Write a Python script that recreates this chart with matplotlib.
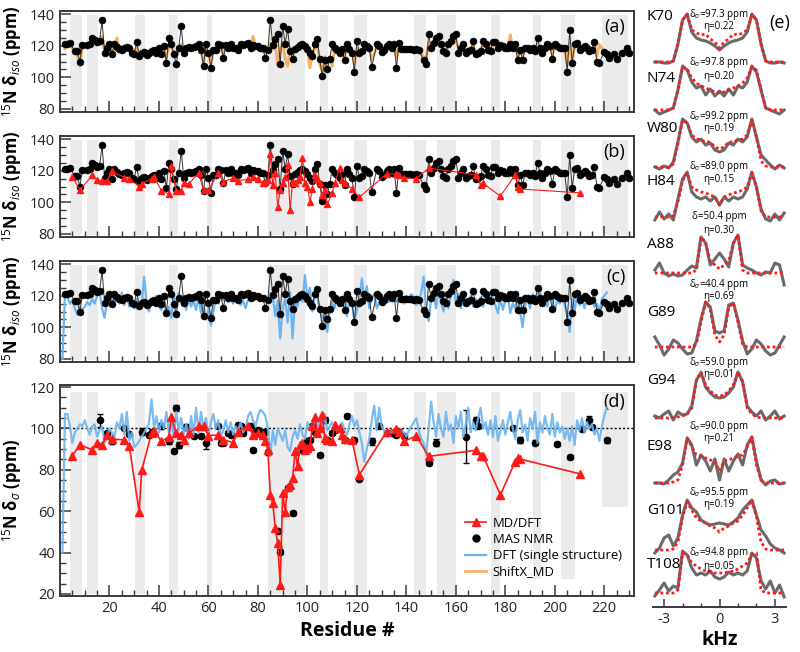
import numpy as np
import matplotlib
matplotlib.use("Agg")
import matplotlib.pyplot as plt
from matplotlib.ticker import MultipleLocator
from matplotlib.lines import Line2D

# ============================================================
# DATA
# ============================================================

# MAS NMR isotropic shifts (panels a-c)
res_iso = [2, 3, 4, 6, 7, 8, 9, 11, 12, 13, 14, 15, 16, 17, 18, 19, 20, 21, 22, 23,
           24, 25, 26, 27, 28, 29, 30, 31, 32, 33, 34, 35, 36, 37, 38, 39, 40, 41, 42, 43,
           44, 45, 46, 47, 48, 49, 50, 51, 52, 53, 54, 55, 56, 57, 58, 59, 60, 61, 62, 63,
           64, 65, 66, 67, 68, 69, 70, 71, 72, 73, 74, 75, 76, 77, 78, 79, 80, 81, 82, 83,
           84, 85, 86, 87, 88, 89, 90, 91, 92, 93, 94, 95, 96, 97, 98, 99, 100, 101, 102, 103,
           104, 105, 106, 107, 108, 109, 110, 111, 112, 113, 114, 115, 116, 117, 118, 119, 120, 121, 122, 123,
           124, 125, 126, 128, 129, 130, 131, 132, 133, 134, 135, 136, 137, 138, 139, 140, 141, 142, 143, 144,
           145, 147, 148, 149, 150, 151, 152, 153, 154, 155, 156, 157, 158, 159, 160, 161, 162, 163, 164, 165,
           166, 167, 168, 169, 170, 171, 172, 173, 174, 175, 176, 177, 178, 179, 180, 181, 182, 183, 184, 185,
           186, 187, 188, 189, 190, 191, 192, 193, 194, 195, 196, 197, 198, 199, 200, 201, 202, 203, 204, 205,
           206, 207, 208, 209, 210, 211, 212, 213, 214, 215, 216, 217, 218, 220, 221, 222, 224, 225, 227, 229,
           230]
iso_nmr = [120.8, 121.3, 121.5, 116.6, 116.6, 109.9, 120.4, 120.2, 120.8, 124.6, 123.4, 122.5, 122.9, 136.0, 115.6, 118.7, 120.8, 114.5, 120.8, 119.2,
           117.7, 117.0, 118.3, 119.2, 118.7, 115.4, 114.9, 122.5, 113.5, 115.6, 116.2, 114.1, 115.2, 116.6, 117.0, 115.6, 118.7, 114.5, 119.8, 109.3,
           124.6, 120.8, 114.9, 108.2, 118.7, 132.4, 115.6, 118.3, 119.2, 118.3, 119.2, 119.8, 120.8, 117.0, 107.2, 120.8, 115.6, 106.1, 117.0, 117.0,
           120.8, 120.4, 112.0, 120.4, 118.7, 121.3, 118.7, 118.3, 117.0, 120.8, 120.4, 120.8, 121.9, 118.7, 120.2, 119.8, 119.6, 118.7, 118.7, 112.0,
           117.0, 136.0, 120.4, 124.0, 127.2, 108.6, 132.4, 121.3, 130.3, 116.6, 111.4, 117.7, 119.2, 120.4, 121.3, 119.8, 117.7, 115.6, 113.5, 121.3,
           124.4, 111.4, 100.8, 110.7, 105.0, 111.4, 121.3, 118.7, 117.0, 115.6, 117.7, 110.7, 120.8, 117.7, 115.6, 103.6, 122.9, 115.6, 116.6, 120.8,
           119.8, 118.7, 106.5, 120.8, 119.8, 116.2, 117.0, 119.8, 120.8, 118.7, 121.3, 106.1, 121.9, 117.7, 117.7, 117.7, 117.7, 117.7, 117.0, 117.7,
           117.0, 110.7, 108.6, 127.2, 118.7, 121.9, 125.0, 126.1, 120.8, 116.6, 115.6, 120.8, 122.9, 126.1, 127.6, 115.6, 118.7, 120.8, 115.6, 116.6,
           117.0, 122.9, 114.5, 115.6, 116.6, 122.9, 120.8, 117.0, 116.6, 122.5, 122.5, 118.7, 120.4, 119.8, 118.7, 118.3, 120.8, 118.7, 120.8, 110.7,
           117.0, 110.7, 118.7, 118.3, 117.0, 118.7, 116.6, 124.6, 118.7, 115.6, 118.7, 120.8, 119.8, 111.4, 121.3, 119.8, 118.7, 118.7, 118.3, 103.6,
           129.7, 109.3, 120.8, 121.9, 117.0, 118.7, 119.8, 118.3, 116.6, 117.0, 122.5, 109.9, 109.3, 116.2, 114.9, 112.4, 114.5, 111.4, 115.6, 118.7,
           115.6]
iso_shiftx = [118, 121, 120, 117, 114, 107, 118, 121, 121, 125, 124, 121, 123, 126, 117, 117, 120, 116, 119, 125,
              118, 119, 117, 119, 117, 116, 116, 119, 115, 116, 117, 116, 117, 118, 116, 117, 119, 116, 118, 112,
              120, 119, 116, 113, 117, 121, 117, 119, 118, 119, 118, 120, 119, 116, 109, 118, 116, 108, 117, 118,
              119, 120, 114, 119, 119, 120, 119, 117, 118, 119, 120, 121, 120, 119, 126, 120, 118, 117, 116, 115,
              118, 122, 118, 121, 108, 117, 122, 112, 107, 119, 113, 118, 119, 120, 120, 118, 116, 106, 114, 118,
              122, 108, 104, 113, 108, 113, 107, 119, 117, 116, 118, 113, 119, 118, 116, 108, 118, 117, 117, 119,
              120, 118, 111, 119, 120, 117, 118, 119, 119, 118, 120, 112, 120, 118, 117, 118, 118, 117, 118, 117,
              118, 113, 112, 122, 119, 120, 121, 122, 120, 117, 117, 120, 121, 122, 124, 118, 119, 122, 117, 118,
              119, 120, 116, 117, 118, 120, 120, 118, 118, 121, 122, 119, 120, 120, 119, 119, 127, 119, 120, 113,
              117, 113, 118, 118, 118, 119, 117, 121, 119, 117, 119, 120, 119, 114, 120, 119, 119, 118, 118, 108,
              122, 111, 119, 120, 118, 119, 119, 118, 117, 118, 121, 113, 121, 116, 116, 114, 115, 113, 116, 118,
              116]

# DFT single structure, every residue from 1
dft_iso = [80, 121, 119, 115, 117, 112, 108, 113, 111, 113, 116, 114, 118, 115, 120, 123, 112, 106, 117, 115,
           120, 116, 119, 115, 122, 114, 120, 113, 117, 112, 118, 113, 114, 132, 116, 110, 118, 114, 120, 113,
           111, 118, 108, 113, 106, 120, 112, 122, 115, 120, 111, 118, 113, 117, 111, 119, 109, 115, 105, 112,
           101, 110, 118, 115, 121, 117, 120, 116, 118, 115, 120, 119, 114, 117, 112, 118, 121, 117, 119, 118,
           120, 117, 120, 116, 122, 120, 107, 117, 93, 112, 118, 103, 122, 93, 118, 113, 122, 116, 133, 118,
           125, 110, 121, 119, 111, 106, 108, 97, 110, 116, 112, 120, 118, 115, 120, 107, 119, 116, 104, 111,
           118, 131, 117, 126, 112, 119, 121, 112, 116, 120, 114, 118, 116, 121, 119, 116, 120, 118, 115, 120,
           118, 121, 119, 114, 117, 122, 132, 110, 104, 118, 122, 112, 124, 116, 110, 118, 112, 121, 130, 115,
           121, 112, 119, 116, 114, 120, 113, 118, 115, 119, 113, 120, 116, 121, 117, 114, 109, 118, 111, 117,
           120, 109, 115, 112, 122, 110, 100, 114, 118, 112, 121, 115, 119, 124, 114, 119, 113, 122, 117, 110,
           118, 115, 120, 114, 109, 97, 118, 110, 121, 114, 118, 112, 120, 116, 118, 113, 115, 110, 118, 120,
           122]
dft_aniso = [40, 107, 107, 101, 93, 98, 100, 102, 101, 104, 100, 97, 101, 102, 96, 99, 101, 93, 95, 100,
             98, 96, 103, 100, 107, 97, 108, 94, 98, 91, 92, 94, 96, 98, 100, 103, 114, 100, 106, 98,
             104, 100, 108, 98, 104, 96, 108, 99, 105, 97, 102, 95, 106, 97, 110, 98, 108, 100, 105, 96,
             103, 107, 100, 104, 96, 99, 104, 98, 103, 97, 101, 99, 103, 98, 100, 106, 108, 104, 101, 106,
             109, 108, 106, 100, 87, 99, 92, 100, 97, 94, 99, 91, 89, 96, 99, 95, 102, 97, 95, 103,
             100, 99, 106, 101, 104, 98, 107, 99, 101, 103, 100, 99, 101, 103, 99, 97, 102, 106, 101, 104,
             98, 93, 84, 90, 95, 104, 111, 99, 110, 101, 99, 97, 99, 98, 99, 98, 97, 99, 98, 96,
             99, 101, 103, 105, 99, 95, 93, 87, 100, 113, 103, 96, 107, 100, 96, 108, 99, 102, 93, 106,
             100, 108, 96, 102, 110, 98, 103, 99, 105, 110, 100, 103, 97, 104, 96, 106, 94, 99, 104, 97,
             103, 108, 100, 95, 104, 109, 98, 102, 94, 105, 100, 108, 93, 103, 98, 106, 100, 97, 107, 96,
             103, 98, 101, 95, 100, 94, 101, 92, 104, 99, 105, 98, 103, 100, 102, 97, 100, 94, 101, 106,
             110]

# MD/DFT (panels b and d)
res_md = [5, 8, 13, 15, 17, 19, 21, 26, 28, 32, 33, 37, 38, 41, 44, 45, 47, 49, 50, 52,
          56, 58, 60, 64, 66, 70, 72, 76, 78, 80, 82, 83, 84, 85, 86, 87, 88, 89, 90, 91,
          92, 93, 94, 95, 96, 97, 98, 99, 100, 101, 102, 103, 104, 105, 106, 107, 108, 110, 111, 113,
          114, 115, 118, 121, 132, 136, 137, 139, 144, 149, 168, 170, 171, 178, 184, 185, 186, 210]
md_iso = [116.3, 107.7, 117.0, 114.2, 113.8, 113.8, 119.6, 115.7, 115.0, 110.0, 111.6, 115.0, 116.0, 107.3, 105.2, 122.8, 107.3, 107.3, 112.5, 111.6,
          118.5, 107.7, 107.7, 118.5, 113.0, 115.3, 113.8, 114.5, 116.0, 115.0, 112.1, 113.0, 114.0, 130.3, 111.0, 118.5, 97.0, 108.0, 112.1, 116.0,
          123.9, 94.8, 113.0, 112.0, 114.0, 116.0, 127.9, 112.1, 110.0, 100.2, 108.7, 117.2, 115.0, 112.0, 104.5, 108.0, 98.7, 105.6, 112.0, 121.7,
          114.0, 112.1, 108.5, 103.2, 118.0, 118.0, 117.0, 115.3, 115.0, 121.7, 117.4, 111.0, 112.0, 103.9, 117.4, 110.0, 108.4, 106.0]
md_aniso = [86.8, 92.1, 89.7, 93.2, 92.1, 96.9, 94.8, 94.5, 91.3, 59.8, 79.7, 97.7, 99.0, 93.7, 96.0, 105.5, 97.7, 96.9, 94.2, 97.7,
            101.3, 101.0, 96.5, 96.9, 94.5, 93.2, 98.5, 101.3, 96.9, 97.7, 96.9, 93.7, 89.7, 67.9, 63.9, 51.8, 44.5, 24.4, 68.7, 59.8,
            71.9, 72.7, 76.0, 88.9, 81.9, 92.1, 92.9, 89.7, 90.5, 91.6, 101.0, 105.5, 97.7, 100.2, 106.6, 95.3, 94.5, 93.7, 101.8, 100.2,
            96.9, 94.8, 94.5, 77.6, 98.5, 99.7, 98.5, 93.7, 96.5, 86.5, 89.4, 86.5, 86.8, 67.9, 84.0, 85.6, 85.2, 78.1]

# MAS NMR anisotropy (panel d)
res_nmr = [16, 19, 21, 26, 28, 33, 36, 37, 41, 44, 46, 47, 48, 51, 54, 57, 59, 64, 65, 66,
           68, 69, 72, 73, 74, 77, 78, 79, 80, 83, 84, 88, 89, 92, 94, 98, 100, 101, 102, 103,
           105, 107, 108, 110, 111, 115, 116, 119, 121, 126, 129, 132, 134, 136, 137, 139, 149, 152, 164, 168,
           169, 183, 186, 192, 201, 206, 211, 214, 215, 221]
nmr_aniso = [103.9, 97.7, 94.0, 100.2, 97.4, 98.5, 96.9, 98.5, 101.0, 93.7, 88.9, 109.8, 92.1, 100.6, 96.5, 96.5, 92.9, 101.3, 93.2, 93.2,
             97.7, 96.9, 101.8, 101.0, 97.7, 101.0, 89.7, 97.7, 99.4, 98.5, 88.4, 50.6, 40.5, 71.1, 59.0, 89.7, 93.7, 94.5, 101.0, 98.1,
             87.3, 104.2, 94.5, 97.7, 99.4, 94.5, 106.1, 94.5, 75.5, 93.7, 101.0, 97.7, 97.7, 96.9, 98.5, 96.5, 83.5, 93.2, 96.1, 103.9,
             101.0, 100.2, 94.5, 93.2, 92.4, 86.1, 99.7, 103.9, 100.6, 94.2]
nmr_err = [3.0, 1.0, 1.5, 1.0, 1.0, 1.5, 1.0, 1.0, 1.5, 1.0, 1.0, 1.5, 1.5, 1.5, 1.0, 1.0, 3.0, 1.0, 1.0, 1.0,
           1.0, 1.0, 1.0, 1.0, 1.0, 1.0, 1.0, 1.0, 1.0, 1.0, 1.0, 1.0, 1.0, 1.0, 1.0, 1.0, 1.5, 1.0, 1.0, 1.0,
           1.0, 1.5, 1.0, 1.0, 1.0, 1.0, 1.0, 1.0, 1.0, 1.5, 1.0, 1.0, 1.0, 1.0, 1.0, 1.0, 1.0, 1.5, 13.0, 1.5,
           1.0, 1.0, 1.5, 1.0, 1.0, 1.0, 1.0, 2.0, 1.0, 1.0]

# shaded residue ranges
bands = [(4, 9), (11, 15.5), (30.5, 34.5), (44, 47.5), (59.5, 61.5), (84, 99), (105, 108.5),
         (119, 124), (143, 148), (152.5, 160), (174, 178), (191, 194.5), (202.5, 208), (219, 229.5)]

# ============================================================
# SPECTRA (panel e): experiment (gray) vs simulation (red)
# ============================================================

spec_names = ["K70", "N74", "W80", "H84", "A88", "G89", "G94", "E98", "G101", "T108"]
spec_delta = ["97.3", "97.8", "99.2", "89.0", "50.4", "40.4", "59.0", "90.0", "95.5", "94.8"]
spec_eta = ["0.22", "0.20", "0.19", "0.15", "0.30", "0.69", "0.01", "0.21", "0.19", "0.05"]
spec_exp = [
    [0, 0, -1, -1, 1, 18, 42, 48, 30, 24, 22, 21, 19, 16, 12, 16, 19, 21, 22, 24, 30, 48, 42, 18, 1, -1, -1, 0, -1],
    [0, -4, -2, 0, 2, 20, 44, 40, 28, 22, 24, 15, 21, 14, 19, 14, 21, 15, 24, 22, 28, 44, 38, 20, 2, 0, -2, -4, 0],
    [0, -2, 1, -1, 5, 25, 48, 44, 30, 25, 28, 22, 24, 17, 15, 17, 24, 22, 28, 25, 30, 48, 30, 12, 7, 2, -2, 2, -1],
    [-3, 5, -2, 3, -3, 18, 38, 45, 25, 20, 18, 20, 16, 20, 12, 20, 16, 20, 18, 20, 28, 45, 30, 8, -2, -4, 3, -3, 4],
    [3, 10, 0, -3, -1, -3, -2, 3, 7, 5, 36, 30, 8, 14, 20, 14, 6, 30, 38, 8, 5, 3, 0, -2, 1, 0, 10, 8, -12],
    [10, 2, -8, -2, 7, 4, -2, -7, -6, 6, 28, 45, 40, 16, 14, 16, 42, 44, 27, 6, -7, -2, 7, 3, -4, -8, -6, 2, 10],
    [2, 0, 4, 7, -2, 6, 3, 4, 12, 38, 45, 31, 25, 21, 20, 21, 25, 31, 46, 36, 12, 6, 2, 7, -2, 2, 7, -1, 2],
    [0, 0, -1, 3, 8, 11, 20, 45, 38, 18, 28, 22, 12, 24, 3, 24, 12, 22, 29, 18, 38, 46, 22, 3, -2, 2, 3, -1, 0],
    [-3, 2, 12, 15, 4, 12, 35, 50, 42, 38, 30, 27, 25, 26, 27, 26, 25, 28, 32, 40, 45, 50, 35, 20, 14, 6, 2, 0, -3],
    [-3, 3, 10, 2, 7, 5, 42, 38, 25, 18, 20, 18, 22, 16, 14, 16, 21, 18, 20, 18, 22, 40, 35, 12, 4, 12, 0, 8, -4],
]
spec_sim = [
    [0, 0, 0, 0, 1, 18, 42, 47, 32, 29, 27, 28, 23, 20, 14, 20, 23, 28, 27, 29, 32, 47, 42, 18, 1, 0, 0, 0, 0],
    [0, 0, 0, 0, 2, 20, 43, 41, 32, 27, 24, 22, 20, 18, 17, 18, 20, 22, 24, 27, 32, 43, 40, 20, 2, 0, 0, 0, 0],
    [0, 0, 0, 0, 3, 24, 47, 44, 32, 28, 27, 25, 25, 20, 18, 20, 25, 25, 27, 28, 32, 47, 30, 6, 1, 0, 0, 0, 0],
    [0, 0, 0, 0, 1, 15, 36, 44, 30, 27, 25, 24, 22, 20, 12, 20, 22, 24, 25, 27, 30, 44, 30, 6, 0, 0, 0, 0, 0],
    [0, 0, 0, 0, 0, 0, 0, 0, 0, 3, 36, 30, 12, 8, 4, 8, 12, 30, 38, 3, 0, 0, 0, 0, 0, 0, 0, 0, 0],
    [0, 0, 0, 0, 0, 0, 0, 0, 0, 3, 25, 45, 38, 12, 5, 12, 40, 44, 25, 3, 0, 0, 0, 0, 0, 0, 0, 0, 0],
    [0, 0, 0, 0, 0, 1, 2, 4, 10, 38, 46, 33, 27, 23, 22, 23, 27, 33, 46, 37, 10, 4, 1, 0, 0, 0, 0, 0, 0],
    [0, 0, 0, 0, 1, 3, 18, 45, 36, 28, 27, 25, 23, 22, 12, 22, 23, 25, 27, 28, 36, 46, 18, 3, 0, 0, 0, 0, 0],
    [0, 0, 0, 0, 1, 8, 33, 48, 40, 32, 29, 27, 24, 22, 18, 22, 24, 27, 29, 35, 42, 50, 33, 8, 1, 0, 0, 0, 0],
    [0, 0, 0, 0, 0, 3, 40, 38, 30, 27, 24, 22, 21, 20, 20, 20, 21, 22, 24, 27, 30, 38, 40, 3, 0, 0, 0, 0, 0],
]
khz = np.linspace(-3.5, 3.5, 29)

# ============================================================
# STYLE / LAYOUT
# ============================================================

plt.rcParams["font.family"] = ["Open Sans", "DejaVu Sans"]
plt.rcParams["mathtext.fontset"] = "custom"
plt.rcParams["mathtext.rm"] = "Open Sans"
plt.rcParams["mathtext.it"] = "Open Sans:italic"
plt.rcParams["mathtext.bf"] = "Open Sans:bold"

W, H = 800, 652
SHADE = "#ebebeb"
BLUE = "#6cb4f0"
ORANGE = "#f6b065"
RED = "#ff1a1a"
SPINE = "#3a3a3a"

# spectrum layout (pixel rows from the top of the figure)
spec_base = [62, 110, 167, 217, 273, 347, 418, 483, 550, 593]
name_y = [17, 78, 128, 182, 245, 312, 380, 447, 510, 565]
delta_y = [14, 63, 117, 167, 216, 285, 362, 427, 492, 553]
eta_y = [26, 76, 129, 179, 230, 297, 375, 439, 504, 567]

fig = plt.figure(figsize=(W / 100, H / 100), dpi=100)


def px_axes(x0, y0, x1, y1):
    return fig.add_axes([x0 / W, 1 - y1 / H, (x1 - x0) / W, (y1 - y0) / H])


def style(ax, ylim, show_x):
    ax.set_xlim(0, 232)
    ax.set_ylim(*ylim)
    ax.set_xticks(range(20, 221, 20))
    ax.xaxis.set_minor_locator(MultipleLocator(5))
    ax.yaxis.set_major_locator(MultipleLocator(20))
    ax.yaxis.set_minor_locator(MultipleLocator(5))
    ax.tick_params(which="both", direction="in", top=False, right=False, color=SPINE,
                   labelsize=10.5, labelcolor="#222222")
    ax.tick_params(which="major", length=8, width=1.1)
    ax.tick_params(which="minor", length=4, width=1.0)
    if not show_x:
        ax.tick_params(axis="x", labelbottom=False)
    for s in ax.spines.values():
        s.set_color(SPINE)
        s.set_linewidth(1.4)


def shade(ax, floors=None):
    for i, (lo, hi) in enumerate(bands):
        fl = 0.015 if floors is None else floors[i]
        ax.axvspan(lo, hi, ymin=fl, ymax=0.965, color=SHADE, lw=0, zorder=0)


def iso_black(ax):
    ax.plot(res_iso, iso_nmr, "-", color="#333333", lw=0.7, zorder=3)
    ax.plot(res_iso, iso_nmr, "o", color="black", ms=5, mew=0.4, zorder=4)


ylabel_iso = r"$^{15}$N δ$_{iso}$ (ppm)"
ax_a = px_axes(60, 11, 634, 112)
ax_b = px_axes(60, 136, 634, 237)
ax_c = px_axes(60, 261, 634, 362)
ax_d = px_axes(60, 385, 634, 596)

# (a) ShiftX_MD
shade(ax_a)
ax_a.plot(res_iso, iso_shiftx, color=ORANGE, lw=2.0, zorder=2)
iso_black(ax_a)
style(ax_a, (78, 142), False)

# (b) MD/DFT
shade(ax_b)
iso_black(ax_b)
ax_b.plot(res_md, md_iso, "-^", color=RED, lw=0.8, ms=4.5, zorder=5)
style(ax_b, (78, 142), False)

# (c) DFT single structure
shade(ax_c)
ax_c.plot(np.arange(1, len(dft_iso) + 1), dft_iso, color=BLUE, lw=1.6, zorder=2)
iso_black(ax_c)
style(ax_c, (78, 142), False)

for ax, lab in zip([ax_a, ax_b, ax_c], ["(a)", "(b)", "(c)"]):
    ax.set_ylabel(ylabel_iso, fontsize=12, fontweight="bold", labelpad=4)
    ax.text(0.985, 0.84, lab, transform=ax.transAxes, ha="right", va="center", fontsize=13)

# (d) anisotropy
floors = [0.01] * 11 + [0.08, 0.08, 0.42]
shade(ax_d, floors)
ax_d.axhline(100, color="black", ls=(0, (1.5, 1.5)), lw=1.0, zorder=1)
ax_d.errorbar(res_nmr, nmr_aniso, yerr=nmr_err, fmt="o", color="black", ms=4.5,
              capsize=2, elinewidth=1, zorder=3)
ax_d.plot(np.arange(1, len(dft_aniso) + 1), dft_aniso, color=BLUE, lw=1.6, alpha=0.9, zorder=4)
ax_d.plot(res_md, md_aniso, "-^", color=RED, lw=1.2, ms=5.5, zorder=5)
style(ax_d, (19, 121), True)
ax_d.set_ylabel(r"$^{15}$N δ$_{σ}$ (ppm)", fontsize=12, fontweight="bold", labelpad=4)
ax_d.set_xlabel("Residue #", fontsize=14, fontweight="bold", labelpad=4)
ax_d.text(0.985, 0.92, "(d)", transform=ax_d.transAxes, ha="right", va="center", fontsize=13)

handles = [
    Line2D([], [], color=RED, marker="^", ms=6, lw=1.2),
    Line2D([], [], color="black", marker="o", ms=5, lw=0),
    Line2D([], [], color=BLUE, lw=1.6),
    Line2D([], [], color=ORANGE, lw=2.0),
]
labels = ["MD/DFT", "MAS NMR", "DFT (single structure)", "ShiftX_MD"]
ax_d.legend(handles, labels, loc="lower left", bbox_to_anchor=(0.69, 0.04), frameon=False,
            fontsize=9.4, handlelength=1.6, handletextpad=0.5, labelspacing=0.25, borderpad=0.2)

# (e) spectra
ax_e = px_axes(653, 0, 786, 607)
ax_e.set_xlim(-3.6, 3.6)
ax_e.set_ylim(0, 607)
for i in range(len(spec_names)):
    off = 607 - spec_base[i]
    ax_e.plot(khz, off + np.array(spec_exp[i]), color="#6a6a6a", lw=2.2, zorder=2)
    ax_e.plot(khz, off + np.array(spec_sim[i]), color=RED, lw=2.0, ls=(0, (1, 1)), zorder=3)
    fig.text(647 / W, 1 - name_y[i] / H, spec_names[i], ha="left", va="center", fontsize=11)
    dlab = "δ=" if spec_names[i] == "A88" else r"δ$_σ$="
    fig.text(719 / W, 1 - delta_y[i] / H, dlab + spec_delta[i] + " ppm",
             ha="center", va="center", fontsize=7)
    fig.text(719 / W, 1 - eta_y[i] / H, "η=" + spec_eta[i], ha="center", va="center", fontsize=7)

for s in ["left", "right", "top"]:
    ax_e.spines[s].set_visible(False)
ax_e.spines["bottom"].set_color(SPINE)
ax_e.spines["bottom"].set_linewidth(1.4)
ax_e.set_yticks([])
ax_e.set_xticks([-3, 0, 3])
ax_e.set_xticklabels(["-3", "0", "3"])
ax_e.xaxis.set_minor_locator(MultipleLocator(1))
ax_e.tick_params(which="both", direction="in", color=SPINE, labelsize=10.5, labelcolor="#222222")
ax_e.tick_params(which="major", length=6, width=1.1)
ax_e.tick_params(which="minor", length=3, width=1.0)
ax_e.set_xlabel("kHz", fontsize=14, fontweight="bold", labelpad=2)
fig.text(780 / W, 1 - 23 / H, "(e)", ha="center", va="center", fontsize=13)

fig.savefig("out.png", dpi=100)
